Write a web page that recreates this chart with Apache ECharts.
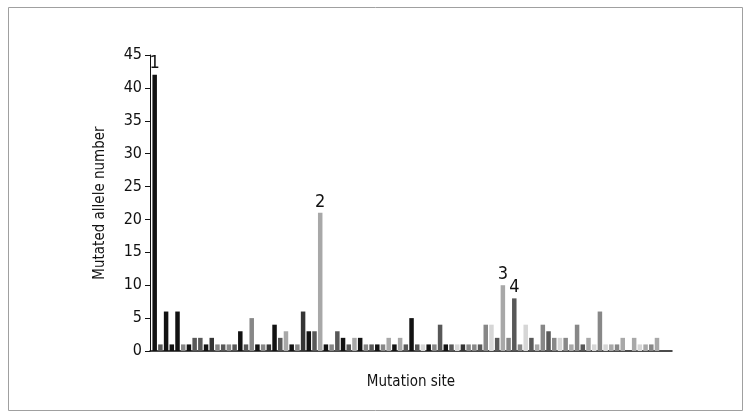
<!DOCTYPE html>
<html>
<head>
<meta charset="utf-8">
<script src="https://cdn.jsdelivr.net/npm/echarts@6/dist/echarts.min.js"></script>
<style>html,body{margin:0;padding:0;background:#fff}#c{width:751px;height:418px}</style>
</head>
<body>
<div id="c"></div>
<script>
// Mutated allele number per mutation site (site order 1..89)
var alleleCounts = [42,1,6,1,6,1,1,2,2,1,2,1,1,1,1,3,1,5,1,1,1,4,2,3,1,1,6,3,3,21,
  1,1,3,2,1,2,2,1,1,1,1,2,1,2,1,5,1,1,1,1,4,1,1,1,1,1,1,1,4,4,
  2,10,2,8,1,4,2,1,4,3,2,2,2,1,4,1,2,1,6,1,1,1,2,0,2,1,1,1,2];
// Shade code per bar: K black, D dark, M dark gray, G gray, L light gray, V very light
var barShades = ['K','M','K','K','K','G','K','M','M','K','D','G','M','G','M','K','M','G','K','G','D','K','M','L','K','G','D','K','M','L',
  'K','G','M','K','M','L','K','G','M','K','G','L','K','L','M','K','M','V','K','G','M','K','M','V','D','G','G','M','G','V',
  'M','L','G','M','G','V','M','L','G','M','G','V','G','L','G','M','L','V','G','V','L','G','L','L','L','V','L','G','L'];
var shadeColors = {K:'#121212', D:'#353535', M:'#585858', G:'#878787', L:'#a8a8a8', V:'#d6d6d6'};
// Annotated sites: [site number, label]
var annotations = [[1,'1'],[30,'2'],[62,'3'],[64,'4']];
var yTicks = {min:0, max:45, interval:5};
var xAxisName = 'Mutation site';
var yAxisName = 'Mutated allele number';

var FONT = "'DejaVu Sans Condensed','Liberation Sans Narrow',sans-serif";
var annMap = {};
annotations.forEach(function(a){ annMap[a[0]] = a[1]; });

var data = alleleCounts.map(function(v, i){
  var site = i + 1;
  var item = { value: [site, v], itemStyle: { color: shadeColors[barShades[i]] } };
  if (annMap[site]) {
    item.label = { show: true, position: 'top', distance: 2, formatter: annMap[site],
      color: '#111', fontSize: 18, fontFamily: FONT };
  }
  return item;
});

var chart = echarts.init(document.getElementById('c'), null, {renderer:'canvas'});
chart.setOption({
  animation: false,
  backgroundColor: '#fff',
  graphic: [{ type:'rect', shape:{x:8.5, y:7.5, width:734, height:403},
    style:{fill:'none', stroke:'#a0a0a0', lineWidth:1}, silent:true }],
  grid: { left:150, right:79, top:55, bottom:67, containLabel:false },
  xAxis: {
    type:'value', min:0.18, max:91.63,
    name: xAxisName, nameLocation:'middle', nameGap:24,
    nameTextStyle:{ color:'#111', fontSize:15, fontFamily:FONT },
    axisLine:{ show:true, onZero:false, lineStyle:{ color:'#111', width:1.5 } },
    axisTick:{ show:false }, axisLabel:{ show:false }, splitLine:{ show:false }
  },
  yAxis: {
    type:'value', min:yTicks.min, max:yTicks.max, interval:yTicks.interval,
    name: yAxisName, nameLocation:'middle', nameGap:42,
    nameTextStyle:{ color:'#111', fontSize:15, fontFamily:FONT },
    axisLine:{ show:true, lineStyle:{ color:'#111', width:1 } },
    axisTick:{ show:true, length:5, lineStyle:{ color:'#111' } },
    axisLabel:{ color:'#111', fontSize:16, fontFamily:FONT, margin:8 },
    splitLine:{ show:false }
  },
  series: [{
    type:'bar', data:data, barWidth:4.5,
    label:{ show:false }
  }]
});
</script>
</body>
</html>
